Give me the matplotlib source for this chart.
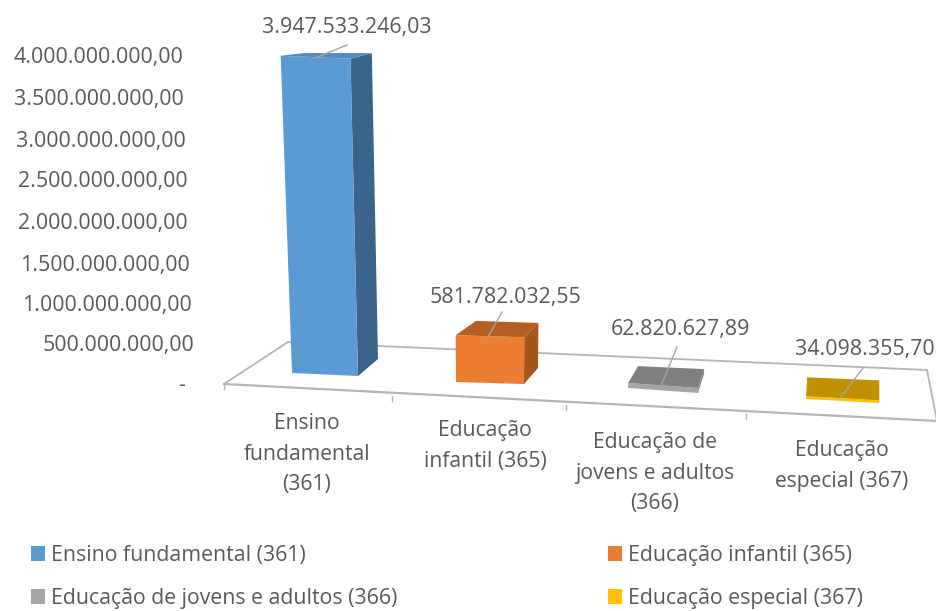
import matplotlib
matplotlib.use("Agg")
import matplotlib.pyplot as plt
from matplotlib.patches import Patch, Polygon

plt.rcParams["font.family"] = ["Open Sans", "DejaVu Sans"]

categories = ["Ensino fundamental (361)", "Educação infantil (365)",
              "Educação de jovens e adultos (366)", "Educação especial (367)"]
axis_labels = ["Ensino\nfundamental\n(361)", "Educação\ninfantil (365)",
               "Educação de\njovens e adultos\n(366)", "Educação\nespecial (367)"]
values = [3947533246.03, 581782032.55, 62820627.89, 34098355.70]
value_labels = ["3.947.533.246,03", "581.782.032,55", "62.820.627,89", "34.098.355,70"]
y_ticks = [0, 500e6, 1000e6, 1500e6, 2000e6, 2500e6, 3000e6, 3500e6, 4000e6]
y_tick_labels = ["-", "500.000.000,00", "1.000.000.000,00", "1.500.000.000,00",
                 "2.000.000.000,00", "2.500.000.000,00", "3.000.000.000,00",
                 "3.500.000.000,00", "4.000.000.000,00"]

# layout, in picture pixels
W, H = 937, 611
ZERO_PX = 383
PER_PX = 4e9 / 328
footprints = [
    [(292, 373), (358, 376), (378, 359), (313, 359)],
    [(456, 382), (524, 384), (538, 368), (476, 366)],
    [(628, 388), (698, 393), (704, 374), (638, 371)],
    [(806, 399), (879, 403), (879, 383), (807, 380)],
]
front_cols = ["#5B9BD5", "#ED7D31", "#A5A5A5", "#FFC000"]
top_cols = ["#4F8CC4", "#B45F22", "#7F7F7F", "#BF9000"]
side_cols = ["#3A6489", "#A5561D", "#8A8A8A", "#C79600"]
legend_cols = ["#5B9BD5", "#ED7D31", "#A5A5A5", "#FFC000"]
label_pos = [(347, 28), (505, 297), (680, 330), (865, 349)]
leaders = [[(347, 45), (315, 58)], [(502, 312), (488, 337)],
           [(677, 347), (661, 386)], [(863, 368), (841, 397)]]
cat_pos = [(307, 454), (485, 446), (655, 473), (842, 466)]
tick_right = [185, 194, 192, 190, 188, 188, 186, 184, 183]
tick_px = [385, 346, 305, 265, 224, 182, 142, 100, 57]
TEXT = "#595959"
LINE = "#B5B5B5"


def val(py):
    return (ZERO_PX - py) * PER_PX


def raised(x, py, v, depth):
    # verticals lean away from the centre of the picture as they rise,
    # and the back of a bar looks shorter than its front
    h = v / PER_PX * depth
    return (x + (x - 490) * 0.00018 * h, val(py) + v * depth)


fig = plt.figure(figsize=(W / 100, H / 100), dpi=100)
ax = fig.add_axes([0, 0, 1, 1])
ax.set_xlim(0, W)
ax.set_ylim(val(H), val(0))
ax.axis("off")

# floor
floor = [(224, 384), (288, 342), (927, 370), (937, 421)]
ax.plot([p[0] for p in floor], [val(p[1]) for p in floor], color=LINE, lw=1.3)
ax.plot([224, 937], [val(384), val(421)], color=LINE, lw=1.6)
for x0, p0 in [(224, 384), (392, 396), (566, 405), (746, 414), (937, 421)]:
    ax.plot([x0, x0], [val(p0), val(p0 + 5)], color=LINE, lw=1)

# bars
for i, v in enumerate(values):
    fp = footprints[i]
    base = [(x, val(p)) for x, p in fp]
    top = [raised(x, p, v, d) for (x, p), d in zip(fp, [0.98, 0.98, 0.945, 0.945])]
    ax.add_patch(Polygon([base[1], base[2], top[2], top[1]], fc=side_cols[i], ec="none", zorder=3))
    ax.add_patch(Polygon([base[0], base[1], top[1], top[0]], fc=front_cols[i], ec="none", zorder=3))
    ax.add_patch(Polygon(top, fc=top_cols[i], ec="none", zorder=4))

# value labels and leader lines
for lab, pos, ln in zip(value_labels, label_pos, leaders):
    ax.text(pos[0], val(pos[1]), lab, ha="center", va="center", fontsize=15.4, color=TEXT, zorder=6)
    ax.plot([ln[0][0], ln[1][0]], [val(ln[0][1]), val(ln[1][1])], color="#A6A6A6", lw=1, zorder=5)

# value axis labels follow the slant of the chart
for t, lab, x, py in zip(y_ticks, y_tick_labels, tick_right, tick_px):
    ax.text(x, val(py), lab, ha="right", va="center", fontsize=15.4, color=TEXT)

for lab, pos in zip(axis_labels, cat_pos):
    ax.text(pos[0], val(pos[1]), lab, ha="center", va="center", fontsize=15.2,
            color=TEXT, linespacing=1.58)

handles = [Patch(fc=c, ec="none") for c in legend_cols]
order = [0, 2, 1, 3]
ax.legend([handles[i] for i in order], [categories[i] for i in order], ncol=2,
          loc="lower left", bbox_to_anchor=(12 / W, -17 / H), frameon=False,
          fontsize=15.3, labelcolor=TEXT, handlelength=0.66, handleheight=0.66,
          handletextpad=0.28, labelspacing=1.03, columnspacing=9.9)

fig.savefig("out.png", dpi=100)
plt.close(fig)
